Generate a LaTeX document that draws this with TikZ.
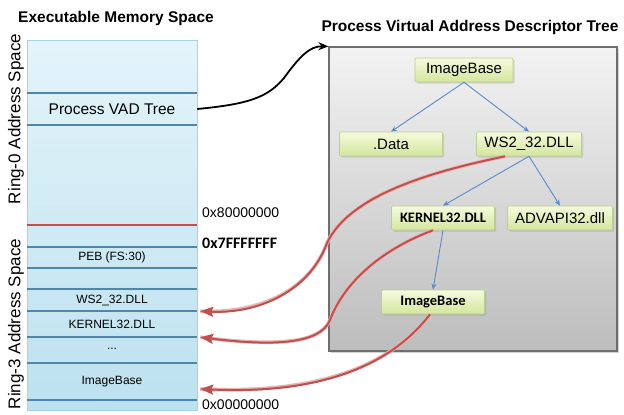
\documentclass[tikz,border=0pt]{standalone}
\usepackage{fontspec}
\setmainfont{Liberation Sans}
\newfontfamily\calibfont{Carlito}
\usetikzlibrary{arrows.meta,shadows,calc}

\definecolor{memtop}{HTML}{E4F4FA}
\definecolor{membot}{HTML}{BCE1EE}
\definecolor{memedge}{HTML}{A9D3E4}
\definecolor{slotline}{HTML}{4E87AB}
\definecolor{kernelline}{HTML}{C0504D}
\definecolor{paneltop}{HTML}{F3F3F3}
\definecolor{panelbot}{HTML}{BDBDBD}
\definecolor{paneledge}{HTML}{6E6E6E}
\definecolor{vadtop}{HTML}{F6FADF}
\definecolor{vadbot}{HTML}{D3E69C}
\definecolor{vadedge}{HTML}{BCCF8E}
\definecolor{treeblue}{HTML}{5A8ACB}
\definecolor{refred}{HTML}{C0504D}
\definecolor{refhalo}{HTML}{EBB3B1}

\tikzset{
  heading/.style={font=\bfseries\fontsize{15.5}{18}\selectfont, inner sep=0pt},
  ringlabel/.style={font=\fontsize{17}{20}\selectfont, inner sep=0pt, rotate=90},
  memrow/.style={minimum width=170pt, inner sep=0pt, font=\fontsize{12}{14}\selectfont},
  addr/.style={anchor=west, inner sep=0pt, font=\fontsize{14}{16}\selectfont},
  slot/.style={draw=slotline, line width=1.8pt},
  vadpanel/.style={draw=paneledge, line width=1.2pt, top color=paneltop, bottom color=panelbot,
    drop shadow={shadow xshift=2pt, shadow yshift=-2pt, opacity=0.35}},
  vadnode/.style={draw=vadedge, line width=0.6pt, rounded corners=1pt,
    top color=vadtop, bottom color=vadbot, minimum height=24pt, inner sep=0pt,
    font=\fontsize{15}{17}\selectfont,
    drop shadow={shadow xshift=1.5pt, shadow yshift=-1.5pt, opacity=0.25}},
  calibnode/.style={vadnode, font=\calibfont\bfseries\fontsize{14.5}{17}\selectfont},
  treearrow/.style={draw=treeblue, line width=0.9pt, -{Stealth[length=6pt,width=5pt]}},
  linkarrow/.style={draw=black, line width=1.8pt, -{Stealth[length=10pt,width=8pt]}},
  refarrow/.style={draw=refred, line width=2pt, -{Stealth[length=13pt,width=10pt,inset=2pt]},
    preaction={draw=refhalo, line width=3.6pt, -}},
}

\begin{document}
\begin{tikzpicture}[x=1pt,y=-1pt]
\useasboundingbox (0,0) rectangle (624,415);

% descriptor tree panel
\node[vadpanel, minimum width=288pt, minimum height=304pt] (vad) at (473,199) {};

% executable memory column
\shade[top color=memtop, bottom color=membot] (27,40) rectangle (197,410);
\draw[memedge, line width=0.6pt] (27,40) rectangle (197,410);
\foreach \y in {93,125,247,268,289,311,337,363,400}
  \draw[slot] (27,\y) -- (197,\y);
\draw[draw=kernelline, line width=2.2pt] (27,225) -- (197,225);

% memory regions
\node[memrow, minimum height=32pt, font=\fontsize{15.5}{18}\selectfont] (vadrow) at (112,109) {Process VAD Tree};
\node[memrow, minimum height=21pt] (peb) at (112,257.5) {PEB (FS:30)};
\node[memrow, minimum height=22pt] (wsrow) at (112,300) {WS2\_32.DLL};
\node[memrow, minimum height=26pt] (k32row) at (112,324) {KERNEL32.DLL};
\node[memrow, minimum height=26pt] (dots) at (112,349) {...};
\node[memrow, minimum height=37pt] (ibrow) at (112,382) {ImageBase};

% addresses
\node[addr] (a8) at (202,213) {0x80000000};
\node[addr, font=\calibfont\bfseries\fontsize{16}{18}\selectfont] (a7) at (202,243) {0x7FFFFFFF};
\node[addr] (a0) at (202,405) {0x00000000};

% headings
\node[heading] (t1) at (116,18) {Executable Memory Space};
\node[heading] (t2) at (470,27) {Process Virtual Address Descriptor Tree};
\node[ringlabel] (r0) at (16,119) {Ring-0 Address Space};
\node[ringlabel] (r3) at (16,324) {Ring-3 Address Space};

% descriptor tree
\node[vadnode, minimum width=98pt] (ib1) at (464,70) {ImageBase};
\node[vadnode, minimum width=103pt] (data) at (391,144) {.Data};
\node[vadnode, minimum width=105pt] (ws2) at (529,144) {WS2\_32.DLL};
\node[calibnode, minimum width=103pt] (k32) at (443,218) {KERNEL32.DLL};
\node[vadnode, minimum width=105pt] (adv) at (560,218) {ADVAPI32.dll};
\node[calibnode, minimum width=103pt] (ib2) at (433,302) {ImageBase};

\draw[treearrow] (ib1.south) -- (data.north);
\draw[treearrow] (ib1.south) -- (ws2.north);
\draw[treearrow] (ws2.south) -- (k32.north);
\draw[treearrow] (ws2.south) -- (adv.north);
\draw[treearrow] (k32.south) -- (ib2.north);

% link from the kernel structure to the tree
\draw[linkarrow] (vadrow.east) .. controls (250,104) and (268,97) .. (284,78)
  .. controls (300,56) and (310,46) .. (vad.north west);

% descriptors pointing back to mapped regions
\draw[refarrow] ([xshift=-24pt]ws2.south) .. controls (430,172) and (350,195) .. (327,243)
  .. controls (310,290) and (260,314) .. ([xshift=3pt]wsrow.south east);
\draw[refarrow] ([xshift=-10pt]k32.south) .. controls (385,248) and (345,280) .. (330,320)
  .. controls (320,345) and (270,346) .. ([xshift=3pt]k32row.south east);
\draw[refarrow] ([xshift=-3pt]ib2.south) .. controls (395,360) and (330,395)
  .. ([xshift=3pt,yshift=-7pt]ibrow.east);
\end{tikzpicture}
\end{document}
